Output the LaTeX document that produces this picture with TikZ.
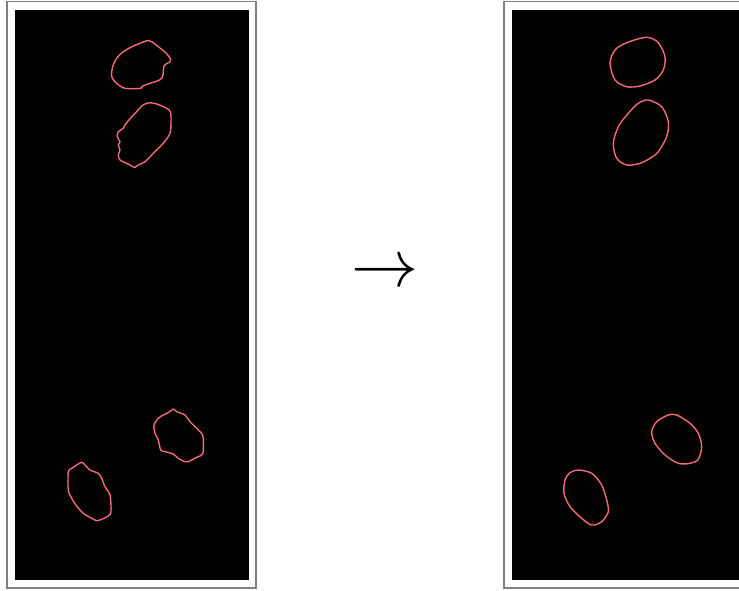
\documentclass[tikz,border=0pt]{standalone}
\usepackage{tikz}
\definecolor{framegray}{HTML}{7F7F7F}
\definecolor{contour}{HTML}{F46A78}

\begin{document}
\begin{tikzpicture}[
    x=1pt,y=-1pt,
    frame/.style={draw=framegray,line width=1.4pt,fill=white},
    field/.style={fill=black},
    blob/.style={draw=contour,line width=1.4pt,line join=round}
  ]
  \useasboundingbox (0,0) rectangle (739,590);

  % left panel: raw contours
  \draw[frame] (7,1.5) rectangle (256,588);
  \fill[field] (15,10) rectangle (249,580);
  \draw[blob] plot[smooth cycle,tension=0.5] coordinates {
    (146.7,40.7) (151.7,41.7) (160,48) (166,53) (170.7,59.3) (170,61.7) (164,66) (162.7,76.7)
    (158.3,80.7) (155,81.7) (142.7,86) (140.7,88.3) (125,88.3) (116.7,83.3)
    (111.7,76.7) (112.7,66.7) (116.7,58.3) (123.3,51.7) (133.3,46) (141.7,42.7)};
  \draw[blob] plot[smooth cycle,tension=0.5] coordinates {
    (150,102.7) (156.7,104) (166.7,108.3) (170.7,112.7) (170.7,130) (168.3,136.7)
    (161.7,145) (153.3,153.3) (145,161.7) (138.3,165) (135,167.3) (131.7,166)
    (126.7,163.3) (120,160) (118.3,155) (120,150) (118.3,145) (120,141.7)
    (117.3,136.7) (118.3,131.7) (123.3,128.3) (125,125) (131.7,116.7)
    (136.7,111.7) (141.7,106) (146.7,103.3)};
  \draw[blob] plot[smooth cycle,tension=0.5] coordinates {
    (173.3,409) (176.7,411.7) (185,415) (190,421.7) (196.7,428.3) (202.7,435)
    (203.3,443.3) (202.7,454) (196.7,457.3) (188.3,461.7) (185,461.7)
    (178.3,458.3) (173.3,454) (165,451.7) (160.7,450) (158.3,440) (155,433.3)
    (154,425) (158.3,418.3) (163.3,415) (168.3,412.7)};
  \draw[blob] plot[smooth cycle,tension=0.5] coordinates {
    (81.7,462.3) (85,465) (90,470) (98.3,473.3) (101.7,478.3) (105,486.7)
    (110,495) (111,511.7) (108.3,516) (100,520) (96.7,520.7) (91.7,518.3)
    (83.3,513.3) (76.7,506) (71.7,498.3) (68.3,490) (68.3,471.7) (71.7,468.3)
    (76.7,465)};

  % arrow between panels
  \node[scale=6.7,inner sep=0pt] (arrow) at (385,274) {$\rightarrow$};

  % right panel: smoothed contours
  \begin{scope}
    \clip (0,0) rectangle (739,590);
    \draw[frame] (504,1.5) rectangle (753,588);
    \fill[field] (512,10) rectangle (746,580);
  \end{scope}
  \draw[blob] plot[smooth cycle] coordinates {
    (610,63.3) (615,50) (626.7,42.7) (646.7,37.3) (658.3,42.7) (665,56.7)
    (663.3,70) (655,80) (640,86) (626.7,86.7) (615,80)};
  \draw[blob] plot[smooth cycle] coordinates {
    (648.3,100) (661.7,106.7) (668.3,121.7) (666.7,136.7) (658.3,151.7)
    (650,158.3) (640,163.3) (626.7,165) (616.7,158.3) (613.3,143.3)
    (618.3,126.7) (628.3,113.3) (638.3,103.3)};
  \draw[blob] plot[smooth cycle] coordinates {
    (668.3,415) (676.7,415) (690,423.3) (698.3,433.3) (701.7,446.7)
    (698.3,459.3) (690,463.3) (678.3,463.3) (665,455) (655,443.3)
    (651.7,431.7) (656.7,421.7)};
  \draw[blob] plot[smooth cycle] coordinates {
    (578.3,470) (591.7,473.3) (601.7,485) (606.7,500) (608.3,511.7)
    (601.7,521.7) (591.7,525) (581.7,518.3) (570,506.7) (564,493.3)
    (565,480) (570,472.7)};

\end{tikzpicture}
\end{document}
